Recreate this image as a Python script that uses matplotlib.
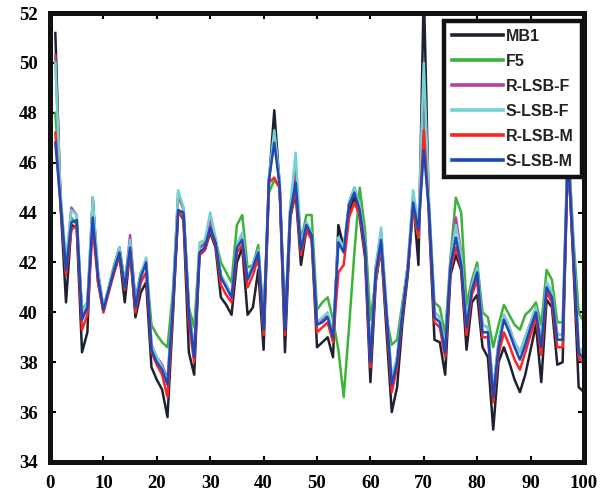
import numpy as np
import matplotlib
matplotlib.use("Agg")
import matplotlib.pyplot as plt

x = list(range(1, 101))

mb1 = [51.2, 44.2, 40.4, 43.5, 43.4, 38.4, 39.2, 44.6, 41.2, 40.1,
       40.9, 41.6, 42.3, 40.4, 42.5, 39.8, 40.8, 41.2, 37.8, 37.3,
       36.9, 35.8, 39.8, 44.1, 43.7, 38.4, 37.5, 42.3, 42.5, 43.2,
       42.6, 40.6, 40.3, 39.9, 42.0, 42.6, 39.9, 40.2, 41.7, 38.5,
       45.2, 48.1, 45.1, 38.4, 43.8, 44.8, 41.9, 43.3, 43.0, 38.6,
       38.8, 39.0, 38.2, 43.5, 42.6, 44.0, 44.6, 43.8, 42.2, 37.2,
       41.2, 42.6, 39.3, 36.0, 37.0, 39.6, 41.5, 44.6, 41.9, 53.0,
       43.6, 38.9, 38.8, 37.5, 41.5, 42.3, 41.7, 38.5, 40.4, 40.7,
       38.6, 38.2, 35.3, 38.0, 38.6, 38.0, 37.3, 36.8, 37.5, 38.5,
       39.5, 37.2, 40.5, 40.2, 37.9, 38.0, 46.5, 42.0, 37.0, 36.8]

f5 = [48.0, 44.6, 41.6, 43.8, 43.5, 40.1, 40.4, 43.9, 41.5, 40.0,
      41.0, 41.9, 42.6, 41.2, 42.7, 40.5, 41.6, 42.0, 39.5, 39.1,
      38.8, 38.6, 40.8, 44.6, 44.2, 40.2, 39.4, 42.6, 42.8, 43.6,
      42.9, 42.0, 41.6, 41.2, 43.5, 43.9, 41.8, 41.9, 42.7, 39.8,
      44.8, 45.3, 45.0, 39.6, 44.2, 45.8, 42.8, 43.9, 43.9, 40.1,
      40.4, 40.6, 39.7, 38.5, 36.6, 39.4, 42.4, 45.0, 43.3, 39.7,
      41.3, 42.7, 39.8, 38.7, 38.9, 40.4, 41.8, 44.2, 43.0, 48.8,
      44.2, 40.4, 40.2, 39.1, 42.2, 44.6, 44.0, 40.3, 41.3, 42.0,
      40.0, 39.8, 38.6, 39.5, 40.3, 39.9, 39.5, 39.3, 39.9, 40.1,
      40.4, 39.5, 41.7, 41.3, 39.6, 39.6, 47.0, 43.0, 40.0, 39.6]

r_lsb_f = [50.3, 44.5, 41.9, 44.2, 43.9, 39.9, 40.3, 44.5, 41.6, 40.2,
           41.0, 41.8, 42.6, 41.1, 43.1, 40.4, 41.5, 42.1, 38.7, 38.2,
           37.9, 37.3, 40.4, 44.8, 44.1, 40.2, 38.4, 42.6, 42.7, 43.8,
           42.9, 41.5, 41.1, 40.7, 42.7, 43.1, 41.4, 41.9, 42.5, 39.5,
           45.3, 47.1, 45.2, 39.4, 44.2, 45.6, 42.7, 43.6, 43.2, 39.6,
           39.7, 39.9, 39.1, 43.0, 42.5, 44.4, 45.0, 44.3, 42.8, 38.2,
           41.8, 43.2, 40.2, 37.3, 38.2, 40.2, 41.9, 44.6, 43.4, 49.3,
           44.0, 40.0, 39.8, 38.6, 42.0, 43.8, 42.4, 39.6, 41.1, 41.8,
           39.5, 39.4, 36.9, 38.8, 39.9, 39.4, 38.8, 38.4, 39.0, 39.6,
           40.2, 38.8, 41.2, 40.8, 39.1, 39.1, 46.8, 42.6, 38.6, 38.3]

s_lsb_f = [50.0, 44.6, 42.1, 44.1, 43.9, 40.0, 40.4, 44.6, 41.6, 40.2,
           41.0, 41.8, 42.6, 41.1, 42.9, 40.3, 41.5, 42.2, 38.7, 38.2,
           37.8, 37.2, 40.4, 44.9, 44.2, 40.1, 38.4, 42.8, 42.9, 44.0,
           43.0, 41.5, 41.1, 40.7, 42.7, 43.2, 41.4, 41.9, 42.5, 39.5,
           45.4, 47.3, 45.3, 39.5, 44.3, 46.4, 42.7, 43.6, 43.2, 39.6,
           39.8, 40.0, 39.1, 43.0, 42.6, 44.4, 45.0, 44.3, 42.8, 38.2,
           41.8, 43.4, 40.2, 37.4, 38.2, 40.2, 41.9, 44.9, 43.5, 50.0,
           44.3, 40.0, 39.8, 38.6, 42.1, 43.5, 42.3, 39.6, 41.1, 41.8,
           39.5, 39.4, 36.9, 38.8, 39.9, 39.4, 38.8, 38.4, 39.0, 39.6,
           40.2, 38.8, 41.2, 40.8, 39.1, 39.1, 46.8, 42.7, 38.6, 38.3]

r_lsb_m = [47.2, 44.2, 41.5, 43.3, 43.5, 39.3, 39.9, 43.4, 41.2, 40.0,
           40.8, 41.6, 42.3, 40.9, 42.4, 40.0, 41.2, 41.6, 38.4, 37.9,
           37.5, 36.6, 40.0, 44.0, 43.8, 39.6, 38.0, 42.3, 42.5, 43.3,
           42.7, 41.1, 40.7, 40.4, 42.4, 42.7, 41.0, 41.5, 42.2, 39.1,
           45.2, 45.4, 45.0, 39.1, 43.9, 44.9, 42.3, 43.3, 42.9, 39.2,
           39.4, 39.6, 38.8, 41.6, 41.9, 43.8, 44.4, 43.9, 42.4, 37.8,
           41.4, 42.7, 39.8, 36.8, 37.8, 39.9, 41.6, 44.2, 43.0, 47.3,
           43.8, 39.6, 39.4, 38.2, 41.7, 42.6, 41.8, 39.1, 40.7, 41.3,
           39.0, 39.0, 36.4, 38.3, 39.2, 38.7, 38.1, 37.7, 38.4, 39.1,
           39.8, 38.3, 40.8, 40.4, 38.6, 38.6, 46.4, 42.2, 38.2, 37.9]

s_lsb_m = [46.8, 44.3, 41.7, 43.6, 43.7, 39.7, 40.2, 43.8, 41.4, 40.1,
           40.9, 41.7, 42.4, 41.0, 42.6, 40.2, 41.4, 42.0, 38.5, 38.0,
           37.7, 37.1, 40.2, 44.1, 44.0, 40.0, 38.2, 42.4, 42.6, 43.4,
           42.8, 41.4, 41.0, 40.6, 42.6, 42.9, 41.3, 41.8, 42.4, 39.3,
           45.3, 46.8, 45.1, 39.3, 44.0, 45.2, 42.5, 43.5, 43.1, 39.5,
           39.6, 39.8, 39.0, 42.8, 42.4, 44.3, 44.8, 44.1, 42.6, 38.0,
           41.6, 42.9, 40.0, 37.1, 38.0, 40.0, 41.7, 44.4, 43.3, 46.5,
           44.0, 39.8, 39.6, 38.4, 41.9, 43.0, 41.9, 39.4, 40.9, 41.6,
           39.2, 39.2, 36.6, 38.6, 39.7, 39.2, 38.6, 38.1, 38.7, 39.4,
           40.0, 38.6, 41.0, 40.6, 38.9, 38.9, 46.5, 42.4, 38.4, 38.1]

labels = ["MB1", "F5", "R-LSB-F", "S-LSB-F", "R-LSB-M", "S-LSB-M"]
series = [mb1, f5, r_lsb_f, s_lsb_f, r_lsb_m, s_lsb_m]
colors = ["#1c2230", "#3cb43c", "#b8429e", "#74d2d0", "#ff2424", "#1e48b8"]

xticks = [0, 10, 20, 30, 40, 50, 60, 70, 80, 90, 100]
yticks = [34, 36, 38, 40, 42, 44, 46, 48, 50, 52]

fig = plt.figure(figsize=(6.06, 4.95), dpi=100)
ax = fig.add_axes([50 / 606, 33 / 495, 534 / 606, 449 / 495])

for vals, lab, col in zip(series, labels, colors):
    ax.plot(x, vals, color=col, lw=1.8, label=lab)

ax.set_xlim(0, 100)
ax.set_ylim(34, 52)
ax.set_xticks(xticks)
ax.set_yticks(yticks)
ax.tick_params(direction="in", length=4, width=1.5, top=True, right=True,
               labelsize=13.5, pad=9)
for lab in ax.get_xticklabels() + ax.get_yticklabels():
    lab.set_fontfamily("Liberation Serif")
    lab.set_fontweight("bold")
for sp in ax.spines.values():
    sp.set_linewidth(3.6)
    sp.set_color("#111111")

leg = ax.legend(loc="upper right", bbox_to_anchor=(0.996, 0.982),
                borderaxespad=0, fancybox=False, framealpha=1,
                edgecolor="#111111", handlelength=3.2, handletextpad=0.2,
                labelspacing=0.62, borderpad=0.5,
                prop={"family": "Liberation Sans", "weight": "bold", "size": 11.5})
leg.get_frame().set_linewidth(3.2)
for h in leg.get_lines():
    h.set_linewidth(2.6)
for t in leg.get_texts():
    t.set_color("#222222")

fig.savefig("out.png", dpi=100)
